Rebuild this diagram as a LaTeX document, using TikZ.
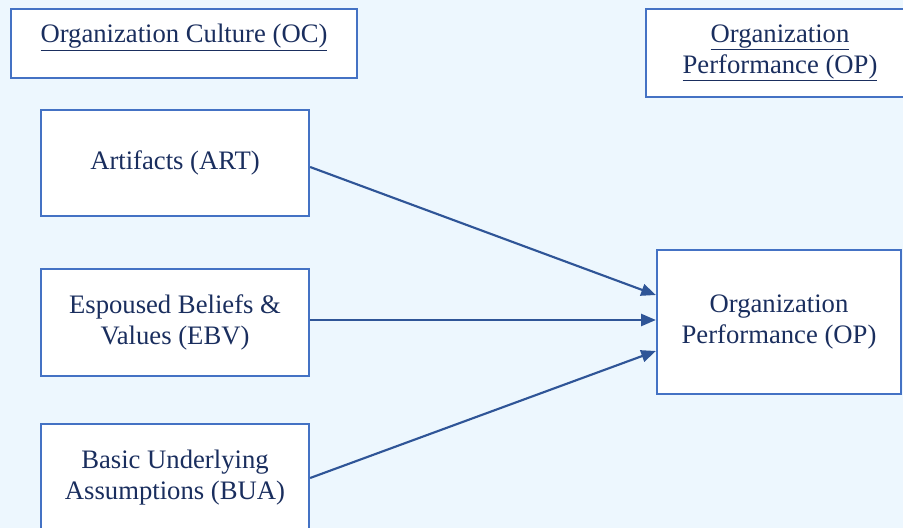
\documentclass[tikz,border=0pt]{standalone}
\usepackage{fontspec}
\setmainfont{Liberation Serif}
\usetikzlibrary{arrows.meta}

\definecolor{bgblue}{HTML}{EDF7FE}
\definecolor{boxblue}{HTML}{4472C4}
\definecolor{arrowblue}{HTML}{2F5597}
\definecolor{textnavy}{HTML}{1A2E5E}

\newdimen\px
\px=0.75pt

\tikzset{
    box/.style={draw=boxblue, line width=1.7pt, fill=white, align=center,
        text=textnavy, font=\fontsize{20}{23.3}\selectfont, inner sep=0pt},
    link/.style={arrowblue, line width=1.6pt, -{Triangle[length=11pt, width=9pt]}}
}

\begin{document}
\begin{tikzpicture}[x=0.75pt, y=-0.75pt]
    \fill[bgblue] (0, 0) rectangle (903, 528);
    \useasboundingbox (0, 0) rectangle (903, 528);
    % headings
    \node[box, minimum width=346\px, minimum height=69\px, text height=18\px, text depth=19\px] (oc) at (184, 43.5) {\underline{Organization Culture (OC)}};
    \node[box, minimum width=268\px, minimum height=88\px] (optop) at (780, 53) {\underline{Organization}\\\underline{Performance (OP)}};
    % dimensions of culture
    \node[box, minimum width=268\px, minimum height=106\px] (art) at (175, 163) {Artifacts (ART)};
    \node[box, minimum width=268\px, minimum height=107\px] (ebv) at (175, 322.5) {Espoused Beliefs \&\\Values (EBV)};
    \node[box, minimum width=268\px, minimum height=108\px] (bua) at (175, 478) {Basic Underlying\\Assumptions (BUA)};
    % outcome
    \node[box, minimum width=244\px, minimum height=144\px] (op) at (779, 322) {Organization\\Performance (OP)};
    \coordinate (in1) at ([yshift=20.25pt]op.west);
    \coordinate (in2) at ([yshift=1.5pt]op.west);
    \coordinate (in3) at ([yshift=-21.75pt]op.west);
    \draw[link] ([yshift=-3pt]art.east) -- (in1);
    \draw[link] ([yshift=1.875pt]ebv.east) -- (in2);
    \draw[link] (bua.east) -- (in3);
\end{tikzpicture}
\end{document}
